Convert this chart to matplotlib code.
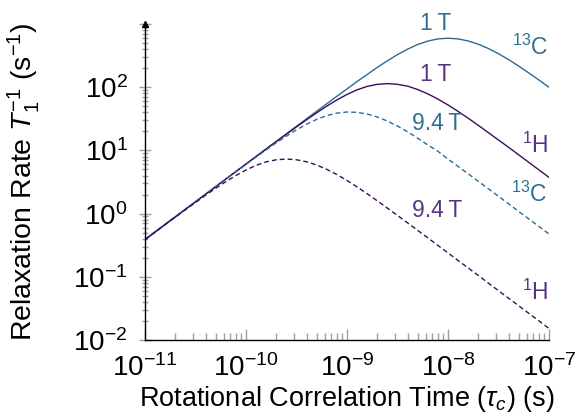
import numpy as np
import matplotlib
matplotlib.use("Agg")
import matplotlib.pyplot as plt

plt.rcParams['font.family'] = ['Liberation Sans', 'DejaVu Sans']
plt.rcParams['mathtext.fontset'] = 'custom'
plt.rcParams['mathtext.rm'] = 'Liberation Sans'
plt.rcParams['mathtext.it'] = 'Liberation Sans:italic'
plt.rcParams['mathtext.bf'] = 'Liberation Sans:bold'

# ---- data ----
tau_exp = [-11.0, -10.9, -10.8, -10.7, -10.6, -10.5, -10.4, -10.3, -10.2, -10.1,
           -10.0, -9.9, -9.8, -9.7, -9.6, -9.5, -9.4, -9.3, -9.2, -9.1,
           -9.0, -8.9, -8.8, -8.7, -8.6, -8.5, -8.4, -8.3, -8.2, -8.1,
           -8.0, -7.9, -7.8, -7.7, -7.6, -7.5, -7.4, -7.3, -7.2, -7.1, -7.0]

rate_C13_1T = [0.389, 0.512, 0.675, 0.888, 1.17, 1.54, 2.03, 2.67, 3.52, 4.63,
               6.10, 8.03, 10.6, 13.9, 18.3, 24.1, 31.7, 41.7, 54.7, 71.8,
               94.0, 123, 159, 206, 262, 328, 400, 474, 537, 581,
               596, 581, 539, 479, 409, 339, 273, 216, 168, 130, 99.7]

rate_H1_1T = [0.389, 0.512, 0.675, 0.888, 1.17, 1.54, 2.03, 2.67, 3.52, 4.63,
              6.08, 7.99, 10.5, 13.8, 18.0, 23.6, 30.6, 39.4, 50.2, 62.9,
              76.8, 90.9, 103, 111, 114, 111, 104, 91.9, 78.5, 64.9,
              52.3, 41.4, 32.3, 24.9, 19.1, 14.6, 11.2, 8.51, 6.47, 4.92, 3.74]

rate_C13_94T = [0.389, 0.512, 0.675, 0.888, 1.17, 1.54, 2.02, 2.66, 3.50, 4.59,
                6.01, 7.85, 10.2, 13.2, 16.8, 21.2, 26.0, 31.0, 35.6, 38.9,
                40.5, 40.0, 37.6, 33.8, 29.1, 24.3, 19.7, 15.6, 12.2, 9.69,
                7.28, 5.58, 4.26, 3.24, 2.47, 1.88, 1.43, 1.08, 0.824, 0.626, 0.475]

rate_H1_94T = [0.388, 0.510, 0.671, 0.880, 1.15, 1.50, 1.95, 2.52, 3.20, 4.01,
               4.90, 5.80, 6.58, 7.11, 7.30, 7.11, 6.61, 5.87, 5.01, 4.15,
               3.34, 2.64, 2.06, 1.59, 1.22, 0.934, 0.713, 0.543, 0.413, 0.314,
               0.239, 0.181, 0.138, 0.105, 0.0794, 0.0603, 0.0458, 0.0348, 0.0264, 0.0201, 0.0152]

ytick_vals = [1e-2, 1e-1, 1e0, 1e1, 1e2, 1e3]
ytick_labels = ['$10^{-2}$', '$10^{-1}$', '$10^{0}$', '$10^{1}$', '$10^{2}$', '']
xtick_vals = [1e-11, 1e-10, 1e-9, 1e-8, 1e-7]
xtick_labels = ['$10^{-11}$', '$10^{-10}$', '$10^{-9}$', '$10^{-8}$', '$10^{-7}$']

BLUE = '#2b6c94'
PURPLE = '#3d0c59'
PURPLE_TXT = '#553484'
BLUE_TXT = '#2d6f96'

tau = 10.0 ** np.array(tau_exp)

fig = plt.figure(figsize=(5.78, 4.19), dpi=100)
ax = fig.add_axes([145/578, 79/419, 404/578, 316/419])

ax.plot(tau, rate_C13_1T, color=BLUE, lw=1.0)
ax.plot(tau, rate_H1_1T, color=PURPLE, lw=1.0)
ax.plot(tau, rate_C13_94T, color=BLUE, lw=1.0, dashes=(3.5, 2.2))
ax.plot(tau, rate_H1_94T, color=PURPLE, lw=1.0, dashes=(3.5, 2.2))

ax.set_xscale('log')
ax.set_yscale('log')
ax.set_xlim(1e-11, 1e-7)
ax.set_ylim(1e-2, 1e3)

for s in ['top', 'right']:
    ax.spines[s].set_visible(False)
for s in ['left', 'bottom']:
    ax.spines[s].set_linewidth(1.0)
    ax.spines[s].set_color('black')

ax.set_xticks(xtick_vals)
ax.set_xticklabels(xtick_labels)
ax.set_yticks(ytick_vals)
ax.set_yticklabels(ytick_labels)
ax.xaxis.set_minor_locator(matplotlib.ticker.LogLocator(base=10, subs=np.arange(2, 10), numticks=20))
ax.yaxis.set_minor_locator(matplotlib.ticker.LogLocator(base=10, subs=np.arange(2, 10), numticks=20))
ax.xaxis.set_minor_formatter(matplotlib.ticker.NullFormatter())
ax.yaxis.set_minor_formatter(matplotlib.ticker.NullFormatter())

ax.tick_params(axis='x', which='major', direction='in', length=8, width=1.0, color='#a0a0a0',
               labelsize=20, pad=10)
ax.tick_params(axis='x', which='minor', direction='in', length=5, width=1.0, color='#a0a0a0')
ax.tick_params(axis='y', which='major', direction='inout', length=8, width=1.0, color='#a0a0a0',
               labelsize=20, pad=8.5)
ax.tick_params(axis='y', which='minor', direction='inout', length=5, width=1.0, color='#a0a0a0')

# arrow head at top of y axis
ax.plot([0], [1], marker='^', markersize=5, color='black', transform=ax.transAxes, clip_on=False)

ax.set_xlabel(r'Rotational Correlation Time ($\tau_c$) (s)', fontsize=19.5)
ax.set_ylabel(r'Relaxation Rate $T_1^{-1}$ (s$^{-1}$)', fontsize=20.5)
ax.xaxis.set_label_coords(0.5, -0.14)
ax.yaxis.set_label_coords(-0.255, 0.5)

lab_fs = 16.5
ax.text(0.720, 1.0, '1\u2009T', color=BLUE_TXT, fontsize=lab_fs, ha='center', va='center', transform=ax.transAxes)
ax.text(0.953, 0.927, '$^{13}$C', color=BLUE_TXT, fontsize=lab_fs, ha='center', va='center', transform=ax.transAxes)
ax.text(0.720, 0.839, '1\u2009T', color=PURPLE_TXT, fontsize=lab_fs, ha='center', va='center', transform=ax.transAxes)
ax.text(0.723, 0.684, '9.4\u2009T', color=BLUE_TXT, fontsize=lab_fs, ha='center', va='center', transform=ax.transAxes)
ax.text(0.965, 0.617, '$^{1}$H', color=PURPLE_TXT, fontsize=lab_fs, ha='center', va='center', transform=ax.transAxes)
ax.text(0.950, 0.462, '$^{13}$C', color=BLUE_TXT, fontsize=lab_fs, ha='center', va='center', transform=ax.transAxes)
ax.text(0.723, 0.411, '9.4\u2009T', color=PURPLE_TXT, fontsize=lab_fs, ha='center', va='center', transform=ax.transAxes)
ax.text(0.965, 0.152, '$^{1}$H', color=PURPLE_TXT, fontsize=lab_fs, ha='center', va='center', transform=ax.transAxes)

fig.savefig('out.png', dpi=100)
